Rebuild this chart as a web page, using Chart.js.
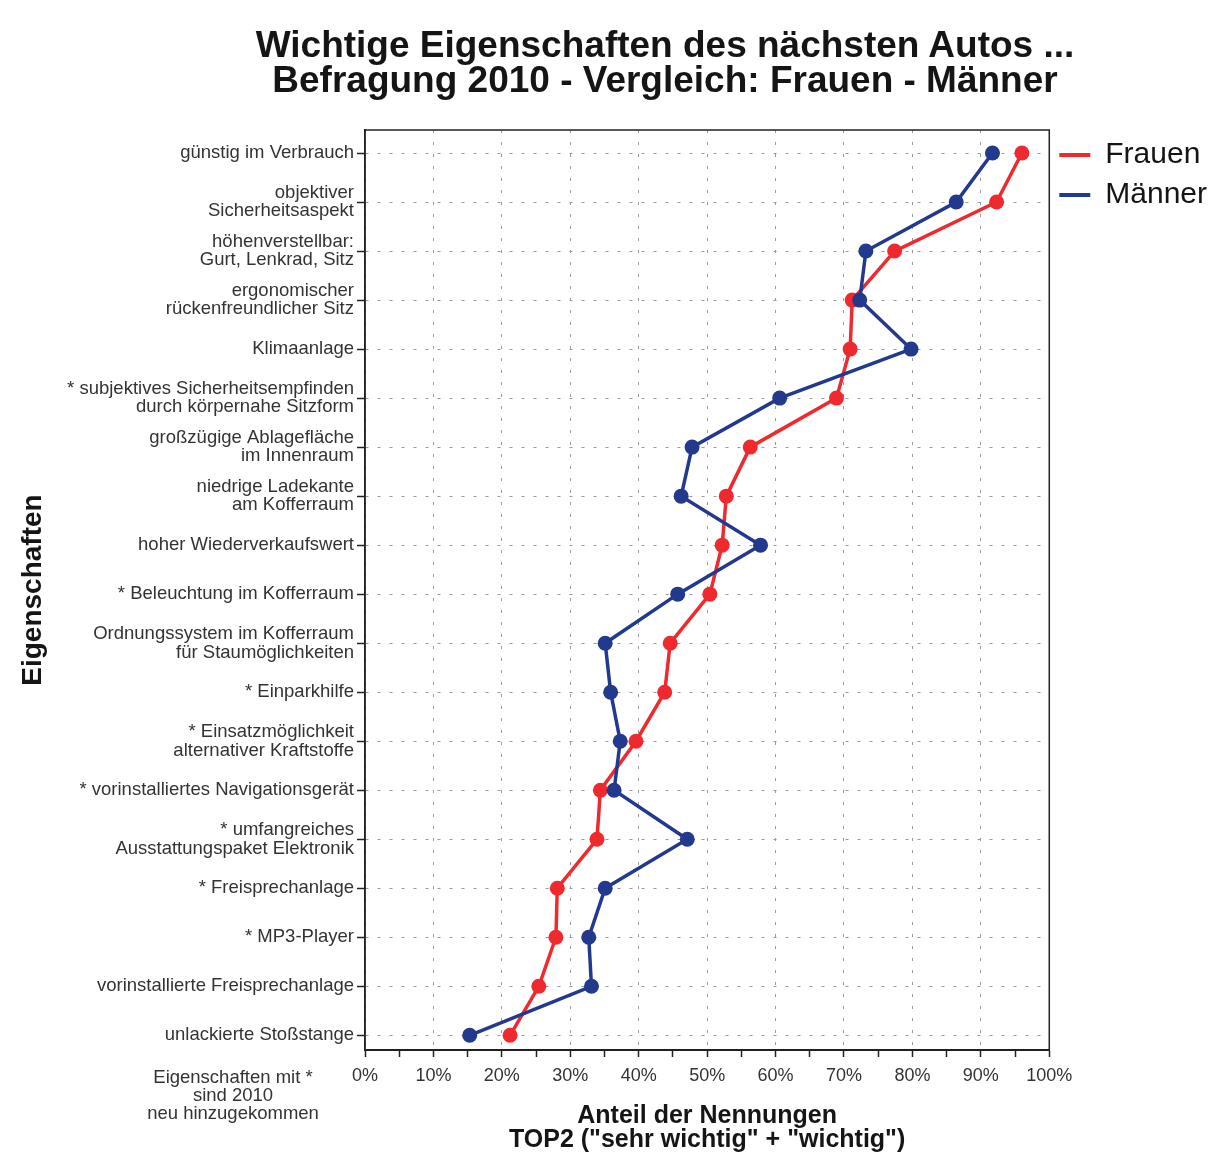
<!DOCTYPE html>
<html>
<head>
<meta charset="utf-8">
<script src="https://cdn.jsdelivr.net/npm/chart.js@4.4.1/dist/chart.umd.min.js"></script>
<style>
  body { margin: 0; background: #fff; }
  #wrap { position: relative; width: 1217px; height: 1160px; font-family: "Liberation Sans", Arial, sans-serif; }
  #title { position: absolute; left: 165px; top: 27px; width: 1000px; text-align: center; white-space: nowrap;
           font-size: 37px; line-height: 35px; font-weight: bold; color: #151515; }
  #note { position: absolute; left: 103px; top: 1068px; width: 260px; text-align: center;
          font-size: 18.5px; line-height: 18px; color: #333; }
  canvas { position: absolute; left: 0; top: 0; }
</style>
</head>
<body>
<div id="wrap">
  <canvas id="chart" width="1217" height="1160"></canvas>
  <div id="title">Wichtige Eigenschaften des nächsten Autos ...<br>Befragung 2010 - Vergleich: Frauen - Männer</div>
  <div id="note">Eigenschaften mit *<br>sind 2010<br>neu hinzugekommen</div>
</div>
<script>
// Eigenschaften (von oben nach unten)
const eigenschaften = [
  ["günstig im Verbrauch"],
  ["objektiver", "Sicherheitsaspekt"],
  ["höhenverstellbar:", "Gurt, Lenkrad, Sitz"],
  ["ergonomischer", "rückenfreundlicher Sitz"],
  ["Klimaanlage"],
  ["* subjektives Sicherheitsempfinden", "durch körpernahe Sitzform"],
  ["großzügige Ablagefläche", "im Innenraum"],
  ["niedrige Ladekante", "am Kofferraum"],
  ["hoher Wiederverkaufswert"],
  ["* Beleuchtung im Kofferraum"],
  ["Ordnungssystem im Kofferraum", "für Staumöglichkeiten"],
  ["* Einparkhilfe"],
  ["* Einsatzmöglichkeit", "alternativer Kraftstoffe"],
  ["* vorinstalliertes Navigationsgerät"],
  ["* umfangreiches", "Ausstattungspaket Elektronik"],
  ["* Freisprechanlage"],
  ["* MP3-Player"],
  ["vorinstallierte Freisprechanlage"],
  ["unlackierte Stoßstange"]
];

// Anteil der Nennungen in %
const frauen = [96.0, 92.3, 77.4, 71.2, 70.9, 68.9, 56.3, 52.8, 52.2, 50.4, 44.6, 43.8, 39.6, 34.4, 33.9, 28.1, 27.9, 25.4, 21.2];
const maenner = [91.7, 86.4, 73.2, 72.3, 79.8, 60.6, 47.8, 46.2, 57.8, 45.7, 35.1, 35.9, 37.3, 36.4, 47.1, 35.1, 32.7, 33.1, 15.3];

const xTicks = [0, 10, 20, 30, 40, 50, 60, 70, 80, 90, 100];

const RED = "#ee2a2e";
const BLUE = "#23398e";
const FONT = "'Liberation Sans', Arial, sans-serif";

// frame round the plot area
const framePlugin = {
  id: "frame",
  beforeDatasetsDraw(chart) {
    const {ctx, chartArea: a} = chart;
    ctx.save();
    ctx.strokeStyle = "#222";
    ctx.lineWidth = 1.5;
    ctx.strokeRect(a.left, a.top, a.right - a.left, a.bottom - a.top);
    ctx.restore();
  }
};

function toPoints(values) {
  return values.map((v, i) => ({x: v, y: i}));
}

new Chart(document.getElementById("chart"), {
  type: "scatter",
  data: {
    datasets: [
      {
        label: "Frauen",
        data: toPoints(frauen),
        showLine: true,
        borderColor: RED,
        backgroundColor: RED,
        borderWidth: 3.5,
        pointRadius: 7.5,
        pointBorderWidth: 0,
        order: 1
      },
      {
        label: "Männer",
        data: toPoints(maenner),
        showLine: true,
        borderColor: BLUE,
        backgroundColor: BLUE,
        borderWidth: 3.5,
        pointRadius: 7.5,
        pointBorderWidth: 0,
        order: 0
      }
    ]
  },
  options: {
    responsive: false,
    animation: false,
    devicePixelRatio: 1,
    layout: {padding: {top: 130, left: 10, right: 0, bottom: 0}},
    plugins: {
      tooltip: {enabled: false},
      legend: {
        position: "right",
        align: "start",
        labels: {
          font: {family: FONT, size: 30},
          color: "#151515",
          boxWidth: 31,
          boxHeight: 4,
          padding: 10,
          sort: (a, b) => a.datasetIndex - b.datasetIndex,
          generateLabels: chart => Chart.defaults.plugins.legend.labels.generateLabels(chart)
            .map(l => Object.assign(l, {lineWidth: 0}))
        }
      }
    },
    scales: {
      x: {
        type: "linear",
        min: 0,
        max: 100,
        afterBuildTicks: axis => {
          axis.ticks = [];
          for (let v = 0; v <= 100; v += 5) axis.ticks.push({value: v});
        },
        afterFit: axis => { axis.height = 110; },
        ticks: {
          autoSkip: false,
          maxRotation: 0,
          padding: 8,
          color: "#333",
          font: {family: FONT, size: 18},
          callback: v => xTicks.includes(v) ? v + "%" : ""
        },
        grid: {
          color: ctx => (ctx.tick && xTicks.includes(ctx.tick.value)) ? "#9a9a9a" : "rgba(0,0,0,0)",
          lineWidth: 1,
          tickColor: "#222",
          tickLength: 7,
          tickWidth: 1.5
        },
        border: {color: "#222", width: 2, dash: [3, 9]},
        title: {
          display: true,
          text: ["Anteil der Nennungen", "TOP2 (\"sehr wichtig\" + \"wichtig\")"],
          color: "#151515",
          font: {family: FONT, size: 25, weight: "bold", lineHeight: 0.95},
          padding: {top: 0, bottom: 8}
        }
      },
      y: {
        type: "linear",
        reverse: true,
        min: -0.47,
        max: 18.3,
        afterBuildTicks: axis => {
          axis.ticks = eigenschaften.map((l, i) => ({value: i}));
        },
        afterFit: axis => { axis.width = 355; },
        ticks: {
          autoSkip: false,
          padding: 3,
          color: "#333",
          font: {family: FONT, size: 18.5, lineHeight: 1.0},
          callback: v => eigenschaften[v]
        },
        grid: {
          color: "#9a9a9a",
          lineWidth: 1,
          tickColor: "#222",
          tickLength: 8,
          tickWidth: 1.5
        },
        border: {color: "#222", width: 1.5, dash: [3, 9]},
        title: {
          display: true,
          text: "Eigenschaften",
          color: "#151515",
          font: {family: FONT, size: 28, weight: "bold", lineHeight: 1.2},
          padding: {top: 6, bottom: 0}
        }
      }
    }
  },
  plugins: [framePlugin]
});
</script>
</body>
</html>
